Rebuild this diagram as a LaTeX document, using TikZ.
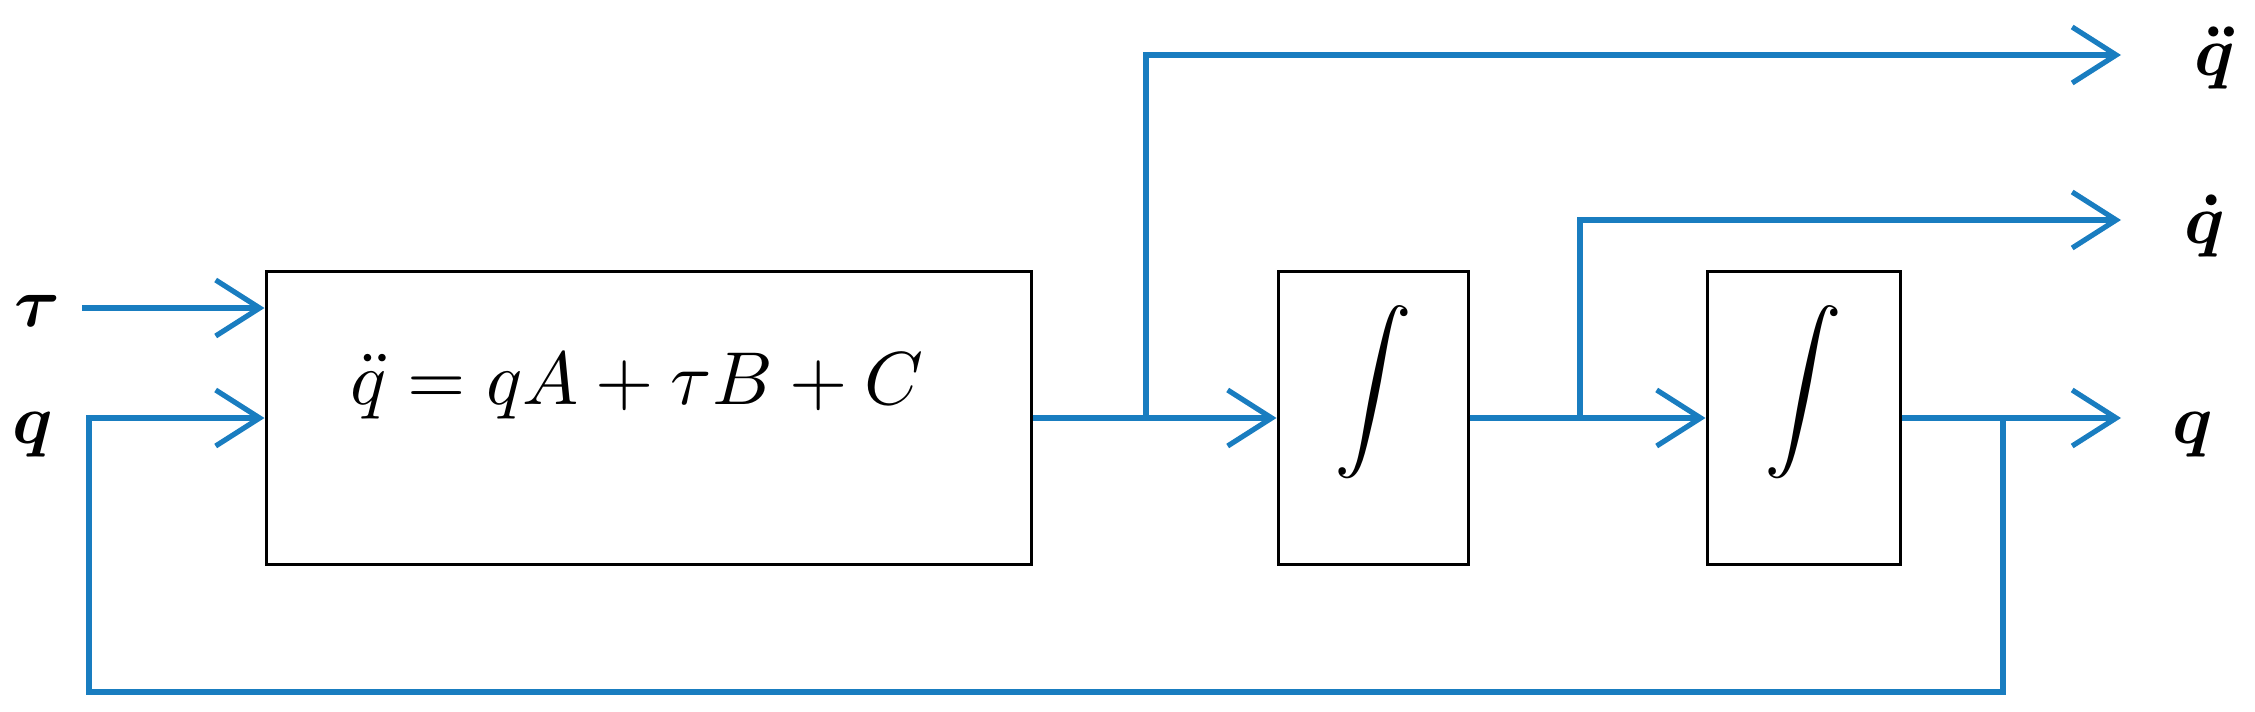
\documentclass[tikz,border=0pt]{standalone}
\usepackage{amsmath}
\usepackage{bm}
\usepackage{graphicx}
\usetikzlibrary{arrows.meta}
\definecolor{sigblue}{RGB}{25,125,192}
\begin{document}
\begin{tikzpicture}[x=0.5pt,y=-0.5pt,
  sig/.style={draw=sigblue, line width=2.6pt},
  arr/.style={sig, -{Straight Barb[length=22pt,width=28pt,line width=2.6pt]}},
  blk/.style={draw=black, line width=1.5pt, fill=white, inner sep=0pt},
  lbl/.style={inner sep=0pt}]
\useasboundingbox (0,0) rectangle (2255,712);
% blocks
\node[blk, minimum width=382.5pt, minimum height=146.5pt] (main) at (648.5,418) {};
\node[inner sep=0pt] (eq) at (637,386) {\scalebox{3.75}{$\ddot{q} = qA + \tau B + C$}};
\node[blk, minimum width=95pt, minimum height=146.5pt] (int1) at (1373,418) {};
\node[blk, minimum width=96.5pt, minimum height=146.5pt] (int2) at (1803.5,418) {};
\node[inner sep=0pt] (s1) at (1373,392) {\scalebox{3.9}{$\displaystyle\int$}};
\node[inner sep=0pt] (s2) at (1803.5,392) {\scalebox{3.9}{$\displaystyle\int$}};
% labels
\node[lbl] (ltau) at (37,311) {\scalebox{3.5}{$\bm{\tau}$}};
\node[lbl] (lq) at (33,435) {\scalebox{3.5}{$\bm{q}$}};
\node[lbl] (oqdd) at (2215,58) {\scalebox{3.5}{$\bm{\ddot{q}}$}};
\node[lbl] (oqd) at (2205,226) {\scalebox{3.5}{$\bm{\dot{q}}$}};
\node[lbl] (oq) at (2193,435) {\scalebox{3.5}{$\bm{q}$}};
% coordinates
\coordinate (tauin) at (82,308);
\coordinate (b1) at (1146,418);
\coordinate (b1t) at (1146,55);
\coordinate (b2) at (1580,418);
\coordinate (b2t) at (1580,220);
\coordinate (b3) at (2003,418);
\coordinate (b3b) at (2003,692);
\coordinate (fbl) at (89,692);
\coordinate (fbu) at (89,418);
\coordinate (end1) at (2121,55);
\coordinate (end2) at (2121,220);
\coordinate (end3) at (2121,418);
% signals
\draw[arr] (tauin) -- (main.west |- tauin);
\draw[arr] (b3) -- (b3b) -- (fbl) -- (fbu) -- (main.west |- fbu);
\draw[arr] (main.east |- b1) -- (int1.west |- b1);
\draw[arr] (b1) -- (b1t) -- (end1);
\draw[arr] (int1.east |- b2) -- (int2.west |- b2);
\draw[arr] (b2) -- (b2t) -- (end2);
\draw[arr] (int2.east |- b3) -- (end3);
\end{tikzpicture}
\end{document}
